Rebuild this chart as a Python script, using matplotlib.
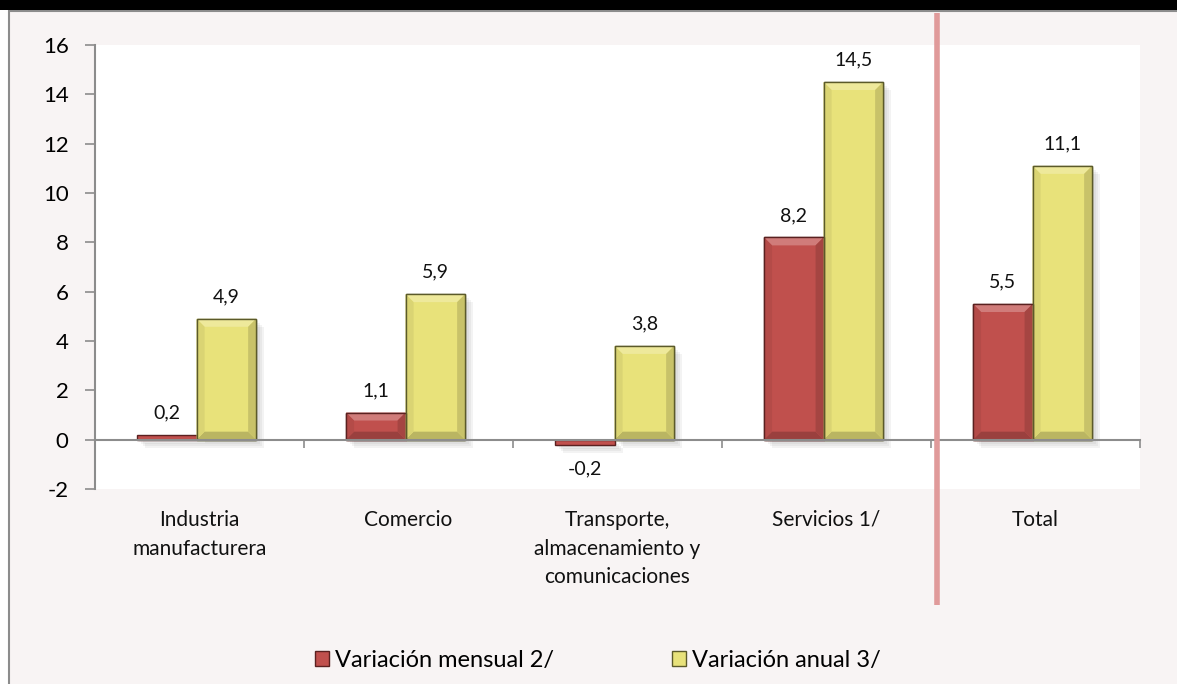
import numpy as np
import matplotlib.pyplot as plt
import matplotlib.transforms as mtransforms
from matplotlib.patches import Rectangle, Polygon, Patch
from matplotlib.colors import to_rgb

plt.rcParams['font.family'] = ['Lato', 'DejaVu Sans']

categories = ['Industria\nmanufacturera', 'Comercio',
              'Transporte,\nalmacenamiento y\ncomunicaciones',
              'Servicios 1/', 'Total']
mensual = [0.2, 1.1, -0.2, 8.2, 5.5]
anual = [4.9, 5.9, 3.8, 14.5, 11.1]
series_names = ['Variación mensual 2/', 'Variación anual 3/']
yticks = [-2, 0, 2, 4, 6, 8, 10, 12, 14, 16]

RED = '#C0504D'
RED_EDGE = '#5a2120'
YEL = '#E8E27A'
YEL_EDGE = '#5b5a2a'


def mix(c, other, t):
  c = np.array(to_rgb(c))
  o = np.array(to_rgb(other))
  return tuple(c * (1 - t) + o * t)


def bevel_bar(ax, x0, w, h, face, edge, px_x, px_y):
  # soft shadow
  for k in range(1, 5):
    ax.add_patch(Rectangle((x0 + 2 * k * px_x, min(0, h) - 2 * k * px_y), w, abs(h),
                           facecolor='#606060', alpha=0.07, lw=0, zorder=1))
  ax.add_patch(Rectangle((x0, min(0, h)), w, abs(h), facecolor=face,
                         edgecolor=edge, lw=1.0, zorder=3))
  bx, by = 8 * px_x, 8 * px_y
  if h <= 2 * by:
    return
  x1, y0, y1 = x0 + w, 0, h
  top = [(x0, y1), (x1, y1), (x1 - bx, y1 - by), (x0 + bx, y1 - by)]
  bot = [(x0, y0), (x1, y0), (x1 - bx, y0 + by), (x0 + bx, y0 + by)]
  left = [(x0, y0), (x0, y1), (x0 + bx, y1 - by), (x0 + bx, y0 + by)]
  right = [(x1, y0), (x1, y1), (x1 - bx, y1 - by), (x1 - bx, y0 + by)]
  for poly, col in [(top, mix(face, 'white', 0.25)), (bot, mix(face, 'black', 0.2)),
                    (left, mix(face, 'black', 0.06)), (right, mix(face, 'black', 0.14))]:
    ax.add_patch(Polygon(poly, closed=True, facecolor=col, lw=0, zorder=4))
  ax.add_patch(Rectangle((x0, 0), w, h, facecolor='none', edgecolor=edge, lw=1.0, zorder=5))


fig = plt.figure(figsize=(11.77, 6.84), dpi=100)
fig.patch.set_facecolor('white')

# frame background
fig.add_artist(Rectangle((9 / 1177, -0.05), 1.05, 1.05 - 11 / 684, transform=fig.transFigure,
                         facecolor='#F8F4F4', edgecolor='#8c8c8c', lw=1.5, zorder=0))
fig.add_artist(Rectangle((0, 1 - 10 / 684), 1, 10 / 684, transform=fig.transFigure,
                         facecolor='black', lw=0, zorder=1))

ax = fig.add_axes([95 / 1177, 1 - 489 / 684, 1045 / 1177, 444 / 684])
ax.set_facecolor('white')
ax.set_xlim(-0.5, 4.5)
ax.set_ylim(-2, 16)

px_x = 5 / 1045
px_y = 18 / 444

x = np.arange(len(categories))
w = 0.285
shift = -0.014
for i in range(len(categories)):
  bevel_bar(ax, x[i] + shift - w, w, mensual[i], RED, RED_EDGE, px_x, px_y)
  bevel_bar(ax, x[i] + shift, w, anual[i], YEL, YEL_EDGE, px_x, px_y)

def fmt(v):
  return ('%.1f' % v).replace('.', ',')

for i in range(len(categories)):
  for val, xc in [(mensual[i], x[i] + shift - w / 2), (anual[i], x[i] + shift + w / 2)]:
    if val >= 0:
      ax.text(xc, val + 22 * px_y, fmt(val), ha='center', va='center', fontsize=14, color='#111111')
    else:
      ax.text(xc, val - 24 * px_y, fmt(val), ha='center', va='center', fontsize=14, color='#111111')

# axes styling
for s in ['top', 'right']:
  ax.spines[s].set_visible(False)
ax.spines['left'].set_color('#8c8c8c')
ax.spines['left'].set_linewidth(1.5)
ax.spines['bottom'].set_position(('data', 0))
ax.spines['bottom'].set_color('#8c8c8c')
ax.spines['bottom'].set_linewidth(1.5)
ax.spines['bottom'].set_zorder(6)
ax.set_yticks(yticks)
ax.set_yticklabels([str(t) for t in yticks], fontsize=16)
ax.tick_params(axis='y', direction='out', length=7, width=1.2, color='#8c8c8c', pad=12)
ax.set_xticks(np.arange(-0.5, 5.0, 1.0))
ax.set_xticklabels([])
ax.tick_params(axis='x', direction='out', length=6, width=1.2, color='#8c8c8c')

blend = mtransforms.blended_transform_factory(ax.transData, ax.transAxes)
for i, lab in enumerate(categories):
  ax.text(x[i], -0.047, lab, transform=blend, ha='center', va='top', fontsize=15,
          linespacing=1.55, color='#111111')

# separator line before "Total"
ax.plot([3.53, 3.53], [-0.261, 1.072], transform=blend, color='#E09A9A', lw=4,
        clip_on=False, zorder=7, solid_capstyle='butt')

handles = [Patch(facecolor=RED, edgecolor=RED_EDGE), Patch(facecolor=YEL, edgecolor=YEL_EDGE)]
fig.legend(handles, series_names, loc='center', bbox_to_anchor=(598 / 1177, 1 - 660 / 684),
           ncol=2, frameon=False, fontsize=17, handlelength=0.6, handleheight=0.6,
           handletextpad=0.25, columnspacing=5.0)

fig.savefig('out.png', dpi=100, facecolor=fig.get_facecolor())
